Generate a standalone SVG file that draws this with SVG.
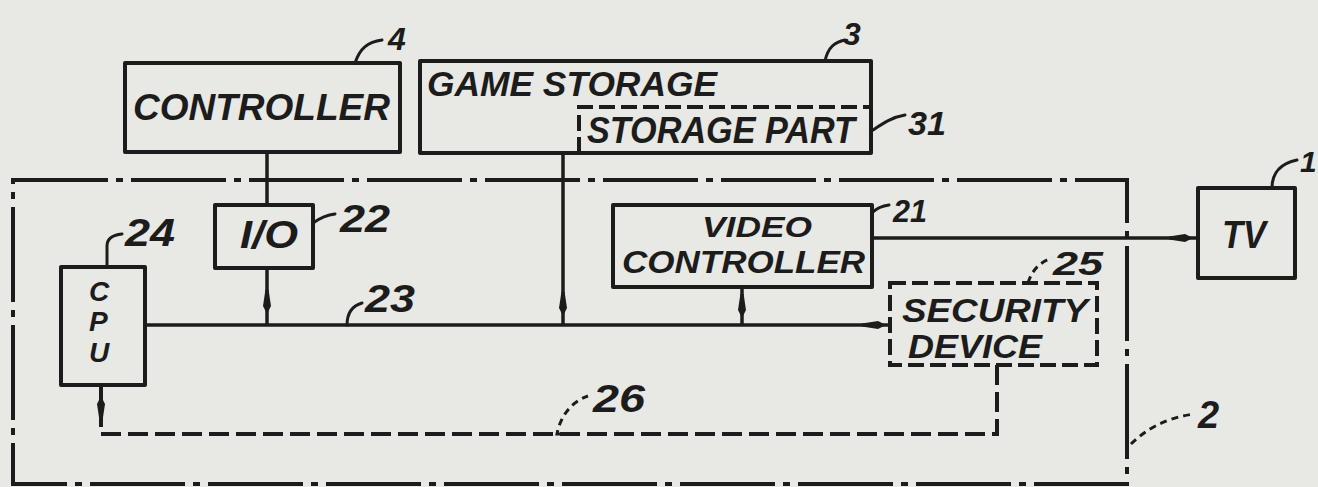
<svg xmlns="http://www.w3.org/2000/svg" xmlns:xlink="http://www.w3.org/1999/xlink" width="1318" height="487" viewBox="0 0 1318 487">
<style>
.bg{fill:#e8e8e4}
.box{fill:none;stroke:#1c1c1c;stroke-width:4;stroke-linejoin:round}
.dbox{fill:none;stroke:#1c1c1c;stroke-width:4;stroke-dasharray:16 6}
.ln{fill:none;stroke:#1c1c1c;stroke-width:3.5}
.dln{fill:none;stroke:#1c1c1c;stroke-width:4;stroke-dasharray:20 7}
.dd{fill:none;stroke:#1c1c1c;stroke-width:4;stroke-dasharray:95 8 7 8}
.ld{fill:none;stroke:#1c1c1c;stroke-width:3;stroke-linecap:round}
.ldd{fill:none;stroke:#1c1c1c;stroke-width:3;stroke-dasharray:7 5}
.t{font-family:"Liberation Sans",Arial,sans-serif;font-style:italic;font-weight:bold;fill:#1c1c1c}
.ah{fill:#1c1c1c}
</style>
<defs>
<path id="ah" class="ah" d="M-12,-1.6 L4,-4 L12,0 L4,4 L-12,1.6 Z"/>
</defs>
<rect class="bg" x="0" y="0" width="1318" height="487"/>

<g id="connectors">
<path class="ln" d="M267,152 V205"/>
<path class="ln" d="M267,268 V325"/>
<path class="ln" d="M145,325 H890"/>
<path class="ln" d="M563,153 V325"/>
<path class="ln" d="M742,287 V325"/>
<path class="ln" d="M872,238 H1198"/>
<path class="dln" d="M997,365 V434 H101 V385"/>
<use xlink:href="#ah" transform="translate(267,302) rotate(90)"/>
<use xlink:href="#ah" transform="translate(563,304) rotate(90)"/>
<use xlink:href="#ah" transform="translate(742,306) rotate(90)"/>
<use xlink:href="#ah" transform="translate(874,325)"/>
<use xlink:href="#ah" transform="translate(1181,238)"/>
<use xlink:href="#ah" transform="translate(101,408) rotate(-90)"/>
</g>

<g id="n2-system">
<path class="dd" d="M13,180 H1127 V484 H13 Z"/>
<text class="t" x="1198" y="428" font-size="38" textLength="27">2</text>
<path class="ldd" d="M1131,444 C1145,430 1165,418 1194,414" stroke-dasharray="14 5 4 5"/>
</g>

<g id="n4-controller">
<rect class="box" x="125" y="63" width="275" height="89"/>
<text class="t" x="133" y="120" font-size="36" textLength="257" lengthAdjust="spacingAndGlyphs">CONTROLLER</text>
<path class="ld" d="M355,63 C360,48 368,42 382,40"/>
<text class="t" x="388" y="50" font-size="32">4</text>
</g>

<g id="n3-game-storage">
<rect class="box" x="420" y="61" width="451" height="92"/>
<text class="t" x="427" y="96" font-size="35" textLength="290" lengthAdjust="spacingAndGlyphs">GAME  STORAGE</text>
<path class="ld" d="M825,61 C828,47 835,42 845,40"/>
<text class="t" x="843" y="45" font-size="32">3</text>
</g>

<g id="n31-storage-part">
<path class="dbox" d="M579,153 V107 H871"/>
<text class="t" x="587" y="143" font-size="36" textLength="268" lengthAdjust="spacingAndGlyphs">STORAGE PART</text>
<path class="ld" d="M873,130 C882,124 892,117 905,115"/>
<text class="t" x="908" y="135" font-size="34" textLength="38" lengthAdjust="spacingAndGlyphs">31</text>
</g>

<g id="n22-io">
<rect class="box" x="215" y="205" width="98" height="63"/>
<text class="t" x="240" y="248" font-size="38" textLength="58" lengthAdjust="spacingAndGlyphs">I/O</text>
<path class="ld" d="M313,223 C320,218 326,215 335,214"/>
<text class="t" x="340" y="232" font-size="38" textLength="50" lengthAdjust="spacingAndGlyphs">22</text>
</g>

<g id="n24-cpu">
<rect class="box" x="61" y="267" width="84" height="118"/>
<text class="t" x="89" y="301" font-size="28">C</text>
<text class="t" x="89" y="331" font-size="28">P</text>
<text class="t" x="89" y="362" font-size="28">U</text>
<path class="ld" d="M107,267 V246 C107,239 112,235 122,234"/>
<text class="t" x="125" y="246" font-size="38" textLength="50" lengthAdjust="spacingAndGlyphs">24</text>
</g>

<g id="n23-bus-label">
<path class="ld" d="M347,325 C347,314 352,306 362,303"/>
<text class="t" x="365" y="312" font-size="38" textLength="50" lengthAdjust="spacingAndGlyphs">23</text>
</g>

<g id="n21-video-controller">
<rect class="box" x="613" y="205" width="259" height="82"/>
<text class="t" x="702" y="237" font-size="30" textLength="110" lengthAdjust="spacingAndGlyphs">VIDEO</text>
<text class="t" x="622" y="273" font-size="32" textLength="243" lengthAdjust="spacingAndGlyphs">CONTROLLER</text>
<path class="ld" d="M873,212 C877,208 882,206 889,205"/>
<text class="t" x="893" y="222" font-size="32" textLength="34" lengthAdjust="spacingAndGlyphs">21</text>
</g>

<g id="n1-tv">
<rect class="box" x="1198" y="188" width="97" height="90"/>
<text class="t" x="1222" y="248" font-size="38" textLength="44" lengthAdjust="spacingAndGlyphs">TV</text>
<path class="ld" d="M1272,188 C1272,172 1282,163 1297,160"/>
<text class="t" x="1300" y="172" font-size="30">1</text>
</g>

<g id="n25-security-device">
<rect class="dbox" x="890" y="283" width="207" height="82"/>
<text class="t" x="902" y="322" font-size="34" textLength="186" lengthAdjust="spacingAndGlyphs">SECURITY</text>
<text class="t" x="908" y="358" font-size="34" textLength="134" lengthAdjust="spacingAndGlyphs">DEVICE</text>
<path class="ldd" d="M1028,283 C1032,270 1040,262 1052,258"/>
<text class="t" x="1053" y="275" font-size="34" textLength="50" lengthAdjust="spacingAndGlyphs">25</text>
</g>

<g id="n26-security-line-label">
<path class="ldd" d="M572,434 H557 C560,418 570,402 588,396"/>
<text class="t" x="593" y="412" font-size="38" textLength="52" lengthAdjust="spacingAndGlyphs">26</text>
</g>
</svg>
